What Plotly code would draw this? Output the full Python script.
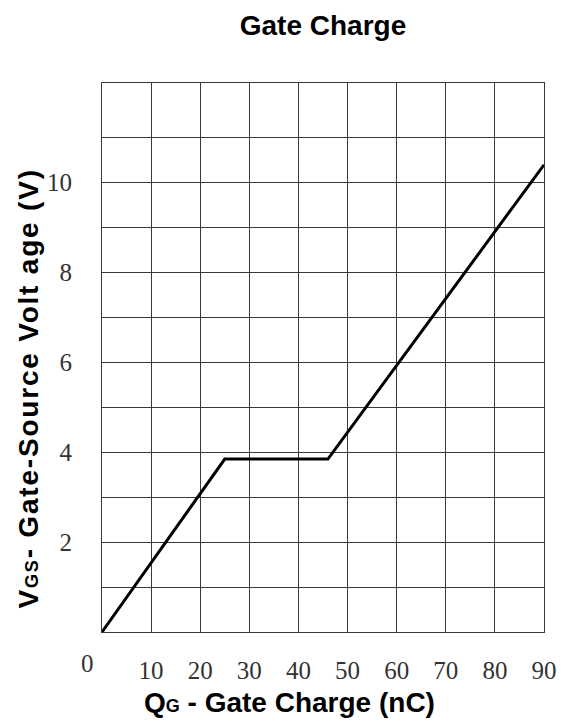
import plotly.graph_objects as go

# Gate charge curve: V_GS versus Q_G
qg_nc = [0, 25, 46, 90]
vgs_v = [0, 3.85, 3.85, 10.4]

x_ticks = [0, 10, 20, 30, 40, 50, 60, 70, 80, 90]
x_tick_text = ["0", "10", "20", "30", "40", "50", "60", "70", "80", "90"]
y_ticks = [2, 4, 6, 8, 10]
y_tick_text = ["2", "4", "6", "8", "10"]
y_minor_grid = [1, 3, 5, 7, 9, 11]

grid_color = "#3a3a3a"
tick_font = dict(family="Liberation Serif", size=25, color="#333333")
title_font = dict(family="Liberation Sans", size=28, color="#000000")

fig = go.Figure()
fig.add_trace(go.Scatter(
    x=qg_nc, y=vgs_v, mode="lines",
    line=dict(color="#000000", width=3),
    hoverinfo="skip", showlegend=False,
))

fig.update_layout(
    width=569, height=725,
    margin=dict(l=102, r=18, t=83, b=93),
    paper_bgcolor="white", plot_bgcolor="white",
    title=dict(text="<b>Gate Charge</b>", x=0.5, xref="paper", xanchor="center",
               y=1 - 25 / 725, yanchor="middle",
               font=dict(family="Liberation Sans", size=28, color="#000000")),
)

fig.update_xaxes(
    range=[0, 90], tickvals=x_ticks,
    ticktext=[""] + x_tick_text[1:],
    tickfont=tick_font, ticks="", ticklabelstandoff=16,
    showgrid=True, gridcolor=grid_color, gridwidth=1,
    showline=True, linecolor=grid_color, linewidth=1, mirror=True,
    zeroline=False,
)
fig.update_yaxes(
    range=[0, 12.22], tickvals=y_ticks, ticktext=y_tick_text,
    tickfont=tick_font, ticks="", ticklabelstandoff=24,
    showgrid=True, gridcolor=grid_color, gridwidth=1,
    minor=dict(tickvals=y_minor_grid, showgrid=True, gridcolor=grid_color, gridwidth=1),
    showline=True, linecolor=grid_color, linewidth=1, mirror=True,
    zeroline=False,
)

# "0" label sits a little left of the origin
fig.add_annotation(
    x=x_ticks[0], y=0, xref="x", yref="paper", text=x_tick_text[0],
    showarrow=False, font=tick_font, xanchor="center", yanchor="top",
    xshift=-15, yshift=-16,
)

# Axis titles
fig.add_annotation(
    x=0.425, y=-0.129, xref="paper", yref="paper",
    text="<b>Q<span style='font-size:18px'>G</span> - Gate Charge (nC)</b>",
    showarrow=False, font=title_font, xanchor="center", yanchor="middle",
)
fig.add_annotation(
    x=-0.167, y=0.444, xref="paper", yref="paper", textangle=-90,
    text=("<span style='letter-spacing:1.8px'><b>V<span style='font-size:18px'>GS</span>"
          "- Gate-Source Volt age (V)</b></span>"),
    showarrow=False, font=title_font, xanchor="center", yanchor="middle",
)

fig.write_html("out.html")
